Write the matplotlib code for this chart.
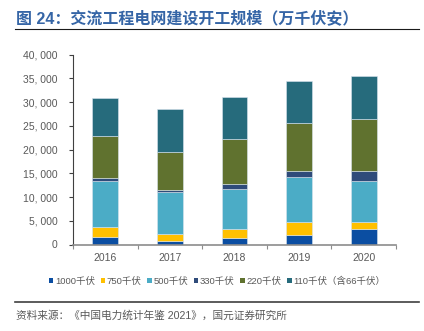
import matplotlib
matplotlib.use("Agg")
import matplotlib.pyplot as plt
from matplotlib.patches import Patch
from matplotlib.ticker import FuncFormatter, FixedLocator
import numpy as np

plt.rcParams['font.family'] = ['Liberation Sans', 'Noto Sans CJK SC', 'DejaVu Sans']

years = ["2016", "2017", "2018", "2019", "2020"]
series_names = ["1000千伏", "750千伏", "500千伏", "330千伏", "220千伏", "110千伏（含66千伏）"]
kv1000 = [1500, 750, 1450, 2000, 3250]
kv750 = [2250, 1450, 1800, 2750, 1550]
kv500 = [9600, 8850, 8500, 9550, 8650]
kv330 = [650, 350, 1050, 1100, 2000]
kv220 = [8900, 8100, 9350, 10300, 11000]
kv110 = [7900, 9000, 8850, 8850, 9000]
colors = ["#0B4EA2", "#FFC000", "#4BACC6", "#2F4B7A", "#60722F", "#266B7C"]

title = "图 24：交流工程电网建设开工规模（万千伏安）"
source = "资料来源：《中国电力统计年鉴 2021》，国元证券研究所"

fig = plt.figure(figsize=(4.24, 3.31), dpi=100)
ax = fig.add_axes([73 / 424, 1 - 244.5 / 331, (396 - 73) / 424, (244.5 - 54.7) / 331])

x = np.arange(len(years))
bottom = np.zeros(len(years))
for vals, col in zip([kv1000, kv750, kv500, kv330, kv220, kv110], colors):
    ax.bar(x, vals, width=0.4, bottom=bottom, color=col,
           edgecolor="#d9e4ee", linewidth=0.4)
    bottom += np.array(vals)

ax.set_xlim(-0.5, len(years) - 0.5)
ax.set_ylim(0, 40000)
ax.set_yticks(np.arange(0, 40001, 5000))
ax.yaxis.set_major_formatter(FuncFormatter(lambda v, p: f"{v:,.0f}".replace(",", ", ")))
ax.set_xticks(x)
ax.set_xticklabels(years)
ax.xaxis.set_minor_locator(FixedLocator(np.arange(-0.5, len(years), 1.0)))

for s in ["top", "right"]:
    ax.spines[s].set_visible(False)
ax.spines["left"].set_color("#404040")
ax.spines["left"].set_linewidth(0.8)
ax.spines["bottom"].set_color("#8c8c8c")
ax.spines["bottom"].set_linewidth(1.2)

ax.tick_params(axis="y", direction="out", length=3, width=0.8, color="#404040",
               labelsize=7.5, labelcolor="#595959", pad=8)
ax.tick_params(axis="x", which="major", length=0, labelsize=7.5,
               labelcolor="#595959", pad=6)
ax.tick_params(axis="x", which="minor", direction="out", length=3, width=0.8,
               color="#8c8c8c")

handles = [Patch(facecolor=c, edgecolor="none") for c in colors]
leg = fig.legend(handles, series_names, loc="center", bbox_to_anchor=(217 / 424, 1 - 281 / 331),
                 ncol=6, frameon=False, fontsize=6.8, handlelength=0.5, handleheight=0.5,
                 handletextpad=0.15, columnspacing=0.6, borderpad=0)
for t in leg.get_texts():
    t.set_color("#595959")

fig.text(16 / 424, 1 - 18 / 331, title, fontsize=11.5, fontweight="bold",
         color="#3565A6", va="center", ha="left",
         family=["Liberation Sans", "Noto Sans CJK SC"])
fig.add_artist(plt.Line2D([15 / 424, 419 / 424], [1 - 28.7 / 331] * 2,
                          color="#1a1a1a", linewidth=0.8, transform=fig.transFigure))
fig.add_artist(plt.Line2D([15 / 424, 419 / 424], [1 - 302.3 / 331] * 2,
                          color="#404040", linewidth=1.2, transform=fig.transFigure))
fig.text(16 / 424, 1 - 316 / 331, source, fontsize=7.7, color="#595959",
         va="center", ha="left", family=["Liberation Sans", "Noto Sans CJK SC"])

fig.savefig("out.png", dpi=100)
